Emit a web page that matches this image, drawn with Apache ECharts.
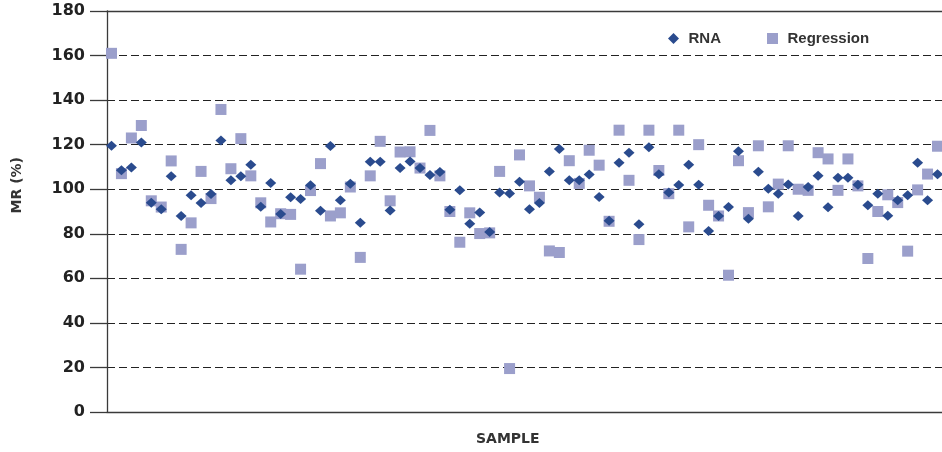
<!DOCTYPE html>
<html>
<head>
<meta charset="utf-8">
<script src="https://cdn.jsdelivr.net/npm/echarts@6/dist/echarts.min.js"></script>
<style>
html,body{margin:0;padding:0;background:#fff;}
#chart{width:942px;height:452px;}
</style>
</head>
<body>
<div id="chart"></div>
<script>
// Sample numbers (1..85); the last sample is only partly visible at the right edge
const samples = Array.from({length: 85}, (_, i) => i + 1);

const rnaValues = [
  119.5, 108.5, 109.7, 121, 93.9, 91, 105.8, 88, 97.3, 93.8,
  97.8, 121.9, 104, 105.8, 111, 92.1, 102.8, 88.9, 96.4, 95.6,
  101.8, 90.3, 119.4, 95.1, 102.5, 84.9, 112.3, 112.3, 90.4, 109.5,
  112.5, 109.5, 106.4, 107.7, 90.8, 99.5, 84.5, 89.6, 80.8, 98.5,
  98.1, 103.3, 91, 93.8, 108, 118, 104, 104, 106.6, 96.5,
  85.8, 111.9, 116.4, 84.3, 118.8, 106.7, 98.5, 101.9, 111, 102,
  81.2, 88, 92, 117.1, 86.7, 107.8, 100.2, 98, 102.1, 88,
  101, 106, 91.9, 105.2, 105.2, 102, 92.8, 98, 88.1, 95,
  97.3, 111.9, 95, 106.7
];

const regressionValues = [
  161, 107, 123, 128.6, 94.8, 92, 112.7, 73, 84.9, 108,
  95.8, 135.8, 109.2, 122.7, 106, 93.9, 85.3, 89, 88.7, 64.1,
  99.4, 111.5, 88, 89.4, 101, 69.4, 106, 121.5, 94.8, 116.7,
  116.8, 109.5, 126.4, 106, 90, 76.2, 89.4, 80.1, 80.4, 108,
  19.5, 115.4, 101.5, 96.4, 72.3, 71.6, 112.8, 102.6, 117.5, 110.8,
  85.6, 126.5, 104, 77.4, 126.5, 108.4, 98, 126.5, 83.1, 120,
  92.8, 88, 61.4, 112.8, 89.5, 119.5, 92.1, 102.3, 119.5, 100,
  99.5, 116.4, 113.6, 99.5, 113.6, 101.5, 68.9, 90, 97.5, 94,
  72.2, 99.7, 106.8, 119.3, 96.5
];

const yTicks = [0, 20, 40, 60, 80, 100, 120, 140, 160, 180];

const rnaData = rnaValues.map((v, i) => [samples[i], v]);
const regData = regressionValues.map((v, i) => [samples[i], v]);

const chart = echarts.init(document.getElementById('chart'), null, {renderer: 'canvas'});
chart.setOption({
  animation: false,
  backgroundColor: '#ffffff',
  grid: {left: 107, right: 0, top: 11, bottom: 40, show: false},
  legend: {
    left: 663, top: 26,
    itemWidth: 20, itemHeight: 11, itemGap: 46,
    textStyle: {fontFamily: 'Liberation Sans', fontWeight: 'bold', fontSize: 15, color: '#333'},
    data: [
      {name: 'RNA', icon: 'path://M5,0L10,5L5,10L0,5Z'},
      {name: 'Regression', icon: 'path://M0,0H10V10H0Z'}
    ]
  },
  xAxis: [
    {type: 'value', min: 0.55, max: 84.45, position: 'bottom',
     axisLine: {show: true, onZero: false, lineStyle: {color: '#3a3a3a', width: 1.3}},
     axisTick: {show: false}, axisLabel: {show: false}, splitLine: {show: false}},
    {type: 'value', min: 0.55, max: 84.45, position: 'top',
     axisLine: {show: true, onZero: false, lineStyle: {color: '#3a3a3a', width: 1.3}},
     axisTick: {show: false}, axisLabel: {show: false}, splitLine: {show: false}}
  ],
  yAxis: {
    type: 'value', min: yTicks[0], max: yTicks[yTicks.length - 1], interval: 20,
    axisLine: {show: true, lineStyle: {color: '#3a3a3a', width: 1.3}},
    axisTick: {show: true, inside: false, length: 17, lineStyle: {color: '#3a3a3a', width: 1.3}},
    axisLabel: {margin: 22, fontFamily: 'DejaVu Sans', fontWeight: 'bold', fontSize: 16, color: '#222'},
    splitLine: {show: true, lineStyle: {color: '#222', width: 1.2, type: [8, 4]}}
  },
  graphic: [
    {type: 'text', left: 10, top: 157, rotation: Math.PI / 2,
     style: {text: 'MR (%)', font: 'bold 14px "DejaVu Sans"', fill: '#333'}},
    {type: 'text', left: 476, top: 432,
     style: {text: 'SAMPLE', font: 'bold 14px "DejaVu Sans"', fill: '#333'}}
  ],
  series: [
    {name: 'Regression', type: 'scatter', symbol: 'rect', symbolSize: 11, z: 2, clip: false,
     itemStyle: {color: '#9b9fcb', opacity: 1}, data: regData},
    {name: 'RNA', type: 'scatter', symbol: 'diamond', symbolSize: [11, 10], z: 3, clip: false,
     itemStyle: {color: '#2a4b8e', opacity: 1}, data: rnaData}
  ]
});
</script>
</body>
</html>
